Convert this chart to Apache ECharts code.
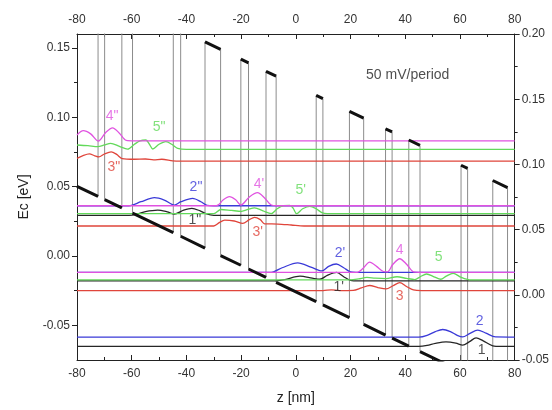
<!DOCTYPE html>
<html>
<head>
<meta charset="utf-8">
<script src="https://cdn.jsdelivr.net/npm/echarts@6.0.0/dist/echarts.min.js"></script>
<style>
  html, body { margin: 0; padding: 0; background: #fff; }
  #chart { width: 552px; height: 410px; }
</style>
</head>
<body>
<div id="chart"></div>
<script>
// conduction band edge, [z (nm), Ec (eV)] at every well / barrier edge
const bandPoints = [
  [-80, 0.0502], [-72.3, 0.0429], [-72.3, 0.1915], [-69.9, 0.1892], [-69.9, 0.0406],
  [-63.6, 0.0346], [-63.6, 0.1832], [-59.7, 0.1795], [-59.7, 0.0309], [-44.8, 0.0168],
  [-44.8, 0.1654], [-42.1, 0.1628], [-42.1, 0.0142], [-33.2, 0.0057], [-33.2, 0.1543],
  [-27.5, 0.1489], [-27.5, 0.0003], [-20.1, -0.0067], [-20.1, 0.1419], [-17.3, 0.1392],
  [-17.3, -0.0094], [-10.9, -0.0155], [-10.9, 0.1331], [-7.2, 0.1296], [-7.2, -0.0190],
  [7.45, -0.0329], [7.45, 0.1157], [9.9, 0.1134], [9.9, -0.0352], [19.6, -0.0444],
  [19.6, 0.1042], [24.8, 0.0993], [24.8, -0.0493], [32.8, -0.0570], [32.8, 0.0916],
  [35.2, 0.0894], [35.2, -0.0592], [41.3, -0.0650], [41.3, 0.0836], [45.4, 0.0797],
  [45.4, -0.0689], [60.4, -0.0832], [60.4, 0.0654], [62.8, 0.0631], [62.8, -0.0855],
  [72.0, -0.0942], [72.0, 0.0544], [77.4, 0.0493], [77.4, -0.0993], [80, -0.1017]
];

// subband levels with their wavefunctions, [z, E]
const state1 = [[-80,-0.0652],[45,-0.0652],[48,-0.0645],[51,-0.0630],[54.9,-0.0619],[58.5,-0.0628],[61,-0.0643],[63.5,-0.0618],[65.9,-0.0590],[68.5,-0.0612],[72,-0.0648],[75,-0.0652],[80,-0.0652]];
const state2 = [[-80,-0.0585],[45,-0.0585],[48,-0.0572],[51,-0.0545],[53.7,-0.0530],[56.5,-0.0545],[59,-0.0572],[61,-0.0584],[63.5,-0.0560],[66.5,-0.0534],[69.5,-0.0556],[73,-0.0584],[80,-0.0585]];
const state3 = [[-80,-0.0250],[10,-0.0250],[13,-0.0244],[16,-0.0250],[21,-0.0248],[24,-0.0230],[27,-0.0213],[30,-0.0228],[33,-0.0238],[35.5,-0.0215],[38,-0.0192],[40.5,-0.0220],[43,-0.0245],[46,-0.0250],[80,-0.0250]];
const state4 = [[-80,-0.0118],[22.5,-0.0118],[24.5,-0.0090],[27,-0.0045],[29.5,-0.0075],[32,-0.0112],[33.5,-0.0115],[35.5,-0.0060],[38,-0.0020],[40.5,-0.0060],[43,-0.0115],[45,-0.0118],[80,-0.0118]];
const state5 = [[-80,-0.0172],[20,-0.0172],[23,-0.0165],[26,-0.0155],[29,-0.0160],[33,-0.0163],[37,-0.0150],[40.5,-0.0162],[43.5,-0.0170],[45.5,-0.0150],[47.8,-0.0130],[50.5,-0.0150],[53,-0.0168],[55,-0.0145],[57.5,-0.0125],[60.5,-0.0155],[63.5,-0.0172],[80,-0.0172]];

const state1p = [[-80,-0.0180],[-8,-0.0180],[-4,-0.0170],[1.5,-0.0146],[6,-0.0160],[8.8,-0.0168],[11.5,-0.0140],[14.9,-0.0119],[17.5,-0.0150],[20,-0.0176],[23,-0.0180],[80,-0.0180]];
const state2p = [[-80,-0.0118],[-9,-0.0118],[-5,-0.0085],[0.7,-0.0050],[5.5,-0.0080],[9.5,-0.0108],[12,-0.0075],[14.8,-0.0058],[17.5,-0.0085],[20,-0.0115],[22,-0.0118],[80,-0.0118]];
const state3p = [[-80,0.0216],[-30,0.0216],[-28,0.0240],[-26,0.0258],[-22.5,0.0252],[-19.4,0.0235],[-17,0.0262],[-15.1,0.0278],[-13,0.0262],[-11.4,0.0232],[-6.6,0.0230],[-1.7,0.0223],[3,0.0216],[80,0.0216]];
const state4p = [[-80,0.0362],[-29,0.0362],[-26.5,0.0405],[-24.3,0.0427],[-22,0.0405],[-20.1,0.0367],[-17,0.0425],[-14,0.0456],[-11.5,0.0420],[-9,0.0367],[-7,0.0362],[80,0.0362]];
const state5p = [[-80,0.0305],[-30,0.0305],[-27.4,0.0335],[-23.5,0.0328],[-19.8,0.0322],[-17.5,0.0335],[-15.1,0.0347],[-12,0.0325],[-9,0.0305],[-6.8,0.0340],[-4.5,0.0362],[-2.2,0.0365],[-1,0.0345],[0.3,0.0305],[2.5,0.0340],[5.1,0.0358],[7.5,0.0340],[9.5,0.0312],[11.5,0.0305],[80,0.0305]];

const state1pp = [[-80,0.0293],[-61,0.0293],[-58,0.0302],[-55,0.0320],[-50.5,0.0331],[-47,0.0318],[-44.4,0.0302],[-41,0.0330],[-38,0.0343],[-35,0.0325],[-32.9,0.0305],[-30,0.0293],[80,0.0293]];
const state2pp = [[-80,0.0362],[-61,0.0362],[-56.6,0.0391],[-51.7,0.0420],[-48.1,0.0403],[-44.4,0.0367],[-42,0.0391],[-37.7,0.0415],[-34.7,0.0391],[-32.5,0.0365],[-30,0.0362],[80,0.0362]];
const state3pp = [[-80,0.0704],[-78,0.0722],[-75.5,0.0736],[-73.5,0.0722],[-72,0.0714],[-70,0.0735],[-67.5,0.0751],[-65.5,0.0732],[-63.5,0.0702],[-59,0.0697],[-55,0.0699],[-52,0.0692],[-49,0.0697],[-45,0.0686],[-42,0.0684],[80,0.0684]];
const state4pp = [[-80,0.0872],[-77.7,0.0903],[-75,0.0880],[-72.2,0.0828],[-69.5,0.0890],[-67,0.0924],[-64.5,0.0885],[-62,0.0833],[-59,0.0830],[80,0.0830]];
const state5pp = [[-80,0.0800],[-76,0.0795],[-72.4,0.0788],[-70,0.0800],[-67.7,0.0812],[-64.5,0.0790],[-61.5,0.0770],[-59,0.0805],[-57,0.0830],[-54.8,0.0836],[-53.5,0.0805],[-52.3,0.0771],[-50,0.0805],[-47.5,0.0824],[-45,0.0800],[-43.2,0.0776],[-40,0.0769],[80,0.0769]];

// state labels: text, z, E
const stateLabels = [
  ['4"', -67.2, 0.1009, '4'], ['5"', -50.0, 0.0929, '5'], ['3"', -66.5, 0.0641, '3'],
  ['2"', -36.5, 0.0497, '2'], ["4'", -13.5, 0.0518, '4'], ["5'", 1.8, 0.0475, '5'],
  ['1"', -36.9, 0.0259, '1'], ["3'", -13.9, 0.0172, '3'],
  ["2'", 16.1, 0.0021, '2'], ['4', 38.0, 0.0043, '4'], ['5', 52.2, -0.0008, '5'],
  ["1'", 15.7, -0.0224, '1'], ['3', 38.0, -0.0289, '3'],
  ['2', 67.2, -0.0469, '2'], ['1', 67.9, -0.0678, '1']
];
const fieldNote = ['50 mV/period', 40.9, 0.1304];

const leftMajor = [-0.05, 0, 0.05, 0.10, 0.15];
const leftMinor = [-0.025, 0.025, 0.075, 0.125];

const colors = { '1': '#262626', '2': '#3a3ad8', '3': '#e0453b', '4': '#e052e0', '5': '#62d95a' };
const font = 'Liberation Sans, Arial, sans-serif';

let states = [
  [state1, '1'], [state1p, '1'], [state1pp, '1'],
  [state2, '2'], [state2p, '2'], [state2pp, '2'],
  [state3, '3'], [state3p, '3'], [state3pp, '3'],
  [state5, '5'], [state5p, '5'], [state5pp, '5'],
  [state4, '4'], [state4p, '4'], [state4pp, '4']
];

// thick segments = horizontal parts of the band (well bottoms, barrier tops)
let thick = [];
for (let i = 0; i < bandPoints.length - 1; i++) {
  let a = bandPoints[i], b = bandPoints[i + 1];
  if (a[0] !== b[0]) {
    thick.push(a, b, [b[0], '-']);
  }
}

let chart = echarts.init(document.getElementById('chart'), null, { renderer: 'canvas' });

let axisCommon = {
  type: 'value',
  axisLine: { show: true, onZero: false, lineStyle: { color: '#222', width: 1 } },
  splitLine: { show: false },
  axisLabel: { color: '#333', fontSize: 12, fontFamily: font },
  nameTextStyle: { color: '#222', fontSize: 14, fontFamily: font }
};

let series = [{
  type: 'line',
  data: bandPoints,
  showSymbol: false,
  lineStyle: { color: '#8c8c8c', width: 1 },
  z: 1,
  silent: true,
  animation: false
}];

states.forEach(s => {
  series.push({
    type: 'line',
    data: s[0],
    showSymbol: false,
    smooth: 0.3,
    lineStyle: { color: colors[s[1]], width: 1.3 },
    z: 2,
    animation: false
  });
});

series.push({
  type: 'line',
  data: thick,
  showSymbol: false,
  connectNulls: false,
  lineStyle: { color: '#111', width: 3 },
  z: 3,
  animation: false
});

series.push({
  type: 'scatter',
  data: stateLabels.map(l => ({
    value: [l[1], l[2]],
    label: { show: true, position: 'inside', formatter: l[0], color: colors[l[3]], fontSize: 14, fontFamily: font }
  })),
  symbolSize: 1,
  itemStyle: { color: 'rgba(0,0,0,0)' },
  z: 4,
  animation: false
});

series.push({
  type: 'scatter',
  data: [{
    value: [fieldNote[1], fieldNote[2]],
    label: { show: true, position: 'inside', formatter: fieldNote[0], color: '#222', fontSize: 14, fontFamily: font }
  }],
  symbolSize: 1,
  itemStyle: { color: 'rgba(0,0,0,0)' },
  z: 4,
  animation: false
});

chart.setOption({
  animation: false,
  grid: { left: 77, right: 37, top: 34, bottom: 50 },
  xAxis: [
    Object.assign({}, axisCommon, {
      position: 'bottom', min: -80, max: 80, interval: 20,
      axisTick: { inside: true, length: 5, lineStyle: { color: '#222' } },
      minorTick: { show: true, splitNumber: 2, length: 3, lineStyle: { color: '#222' } },
      axisLabel: Object.assign({}, axisCommon.axisLabel, { margin: 8 }),
      name: 'z [nm]', nameLocation: 'middle', nameGap: 31
    }),
    Object.assign({}, axisCommon, {
      position: 'top', min: -80, max: 80, interval: 20,
      axisTick: { inside: true, length: 5, lineStyle: { color: '#222' } },
      minorTick: { show: true, splitNumber: 2, length: 3, lineStyle: { color: '#222' } },
      axisLabel: Object.assign({}, axisCommon.axisLabel, { margin: 8 })
    })
  ],
  yAxis: [
    Object.assign({}, axisCommon, {
      position: 'left', min: -0.075, max: 0.16,
      axisTick: { show: true, length: 5, customValues: leftMajor, lineStyle: { color: '#222' } },
      axisLabel: Object.assign({}, axisCommon.axisLabel, { customValues: leftMajor, margin: 7, formatter: v => v.toFixed(2) }),
      name: 'Ec [eV]', nameLocation: 'middle', nameGap: 46, nameRotate: 90
    }),
    Object.assign({}, axisCommon, {
      position: 'left', min: -0.075, max: 0.16,
      axisLine: { show: false, onZero: false },
      axisTick: { show: true, length: 3, customValues: leftMinor, lineStyle: { color: '#222' } },
      axisLabel: { show: false }
    }),
    Object.assign({}, axisCommon, {
      position: 'right', min: -0.05, max: 0.20, interval: 0.05,
      axisTick: { show: true, length: 5, lineStyle: { color: '#222' } },
      minorTick: { show: true, splitNumber: 2, length: 3, lineStyle: { color: '#222' } },
      axisLabel: Object.assign({}, axisCommon.axisLabel, { margin: 7, formatter: v => v.toFixed(2) })
    })
  ],
  series: series
});
</script>
</body>
</html>
